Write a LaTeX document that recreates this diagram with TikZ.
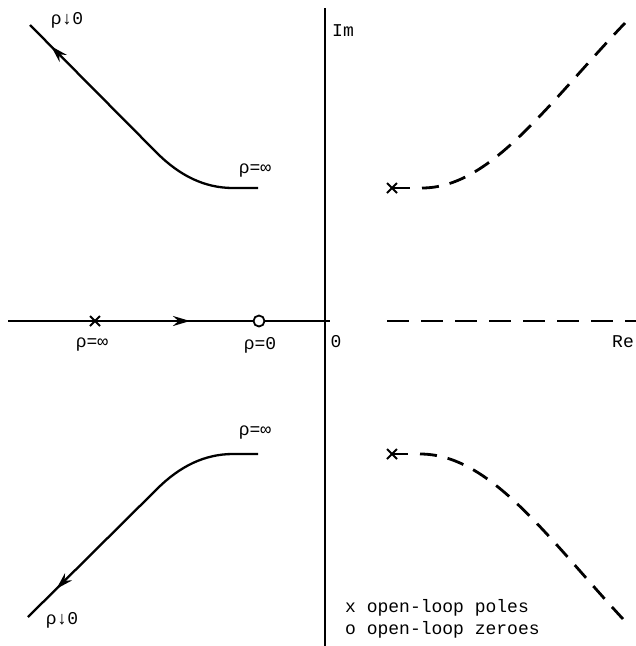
\documentclass[tikz,border=0pt]{standalone}
\usepackage{fontspec}
\newfontfamily\plotfont{Liberation Mono}
\usetikzlibrary{arrows.meta,decorations.markings,shapes.misc}
\begin{document}
\begin{tikzpicture}[x=1pt,y=-1pt,
  lbl/.style={font=\plotfont\fontsize{18}{20}\selectfont, inner sep=0pt},
  axisline/.style={line width=2pt},
  locus/.style={line width=2.3pt},
  dashlocus/.style={line width=2.8pt, dash pattern=on 17pt off 11pt},
  axisdash/.style={line width=2.6pt, dash pattern=on 22pt off 12pt},
  polemark/.style={cross out, draw, line width=2pt, minimum size=8pt, inner sep=0pt},
  zeromark/.style={circle, draw, line width=1.8pt, minimum size=11pt, inner sep=0pt, fill=white},
  arrowat/.style={postaction={decorate}, decoration={markings, mark=at position #1 with {\arrow{Stealth[length=17pt,width=10pt]}}}},
]
\useasboundingbox (0,0) rectangle (636,646);

% axes
\coordinate (ytop) at (325,8);
\coordinate (ybot) at (325,646);
\coordinate (xleft) at (8,321);
\coordinate (xmid) at (330,321);
\coordinate (xdash) at (387,321);
\coordinate (xright) at (636,321);
\draw[axisline] (ytop) -- (ybot);
\draw[axisline] (xleft) -- (xmid);
\draw[axisdash] (xdash) -- (xright);

% real-axis locus
\node[polemark] (p0) at (95,321) {};
\node[zeromark] (z0) at (259,321) {};
\draw[locus, arrowat=95pt] (p0.center) -- (z0);

% upper-left branch
\coordinate (ua) at (258,188);
\coordinate (ub) at (233,188);
\coordinate (uc) at (157,153);
\coordinate (ud) at (30,25);
\draw[locus, arrowat=-30pt] (ua) -- (ub) .. controls (205,188) and (180,176) .. (uc) -- (ud);

% lower-left branch
\coordinate (la) at (258,454);
\coordinate (lb) at (233,454);
\coordinate (lc) at (157,489);
\coordinate (ld) at (28,617);
\draw[locus, arrowat=-40pt] (la) -- (lb) .. controls (205,454) and (180,466) .. (lc) -- (ld);

% upper-right branch
\node[polemark] (p1) at (392,188) {};
\coordinate (s1) at (410,188);
\coordinate (d1) at (422,188);
\coordinate (e1) at (625,23);
\draw[locus] (p1.center) -- (s1);
\draw[dashlocus] (d1) .. controls (490,188) and (547,105) .. (e1);

% lower-right branch
\node[polemark] (p2) at (392,454) {};
\coordinate (s2) at (408,454);
\coordinate (d2) at (420,454);
\coordinate (e2) at (623,619);
\draw[locus] (p2.center) -- (s2);
\draw[dashlocus] (d2) .. controls (490,454) and (547,537) .. (e2);

% labels
\node[lbl] (rho0top) at (67,20) {ρ↓0};
\node[lbl] (rinftop) at (255,171) {ρ=∞};
\node[lbl] (rinfaxis) at (92,345) {ρ=∞};
\node[lbl] (rzero) at (260,345) {ρ=0};
\node[lbl] (rinfbot) at (255,433) {ρ=∞};
\node[lbl] (rho0bot) at (62,620) {ρ↓0};
\node[lbl, anchor=west] (im) at (332,31) {Im};
\node[lbl] (orig) at (336,342) {0};
\node[lbl, anchor=west] (re) at (612,342) {Re};
\node[lbl, anchor=west] (leg1) at (345,608) {x open-loop poles};
\node[lbl, anchor=west] (leg2) at (345,630) {o open-loop zeroes};
\end{tikzpicture}
\end{document}
